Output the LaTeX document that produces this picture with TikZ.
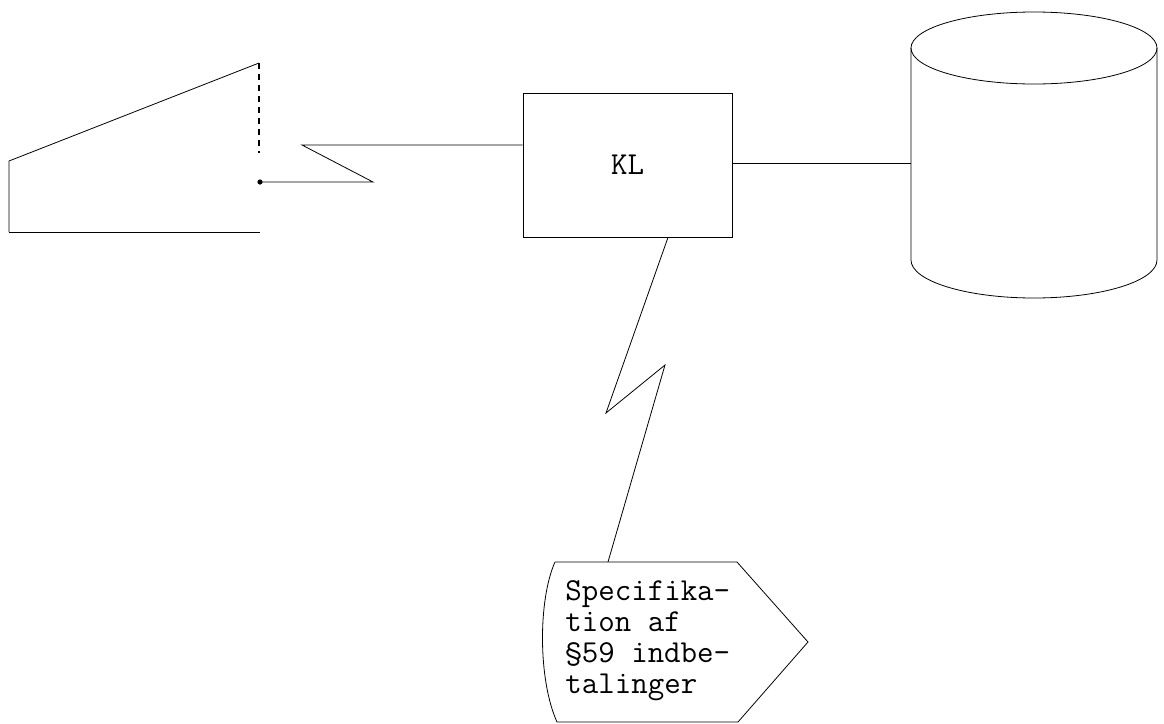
\documentclass[tikz,border=0pt]{standalone}
\usepackage{fontspec}
\usetikzlibrary{positioning}
\tikzset{
    x=0.5pt, y=-0.5pt, % one unit is one pixel of the scan
    line width=0.95pt, % pen of the drawing
    every node/.style={font=\ttfamily\fontsize{16}{15.5}\selectfont},
}

\begin{document}
\begin{tikzpicture}[
                    procBox/.style={draw, minimum width=104.5pt, minimum height=72pt, inner sep=0pt},
                    plainText/.style={align=left, inner sep=0pt, anchor=west},
                ]
                \useasboundingbox (0,0) rectangle (1164,724);
                % terminal
                \draw (9,232) -- (9,161) -- (259,63);
                \draw[dash pattern=on 3pt off 2.5pt, line width=0.7pt] (259,63) -- (259,153);
                \draw (9,232) -- (260,232);
                \coordinate (trm) at (260,182);
                \fill (trm) circle (1.3pt);
                % processor
                \node[procBox] (kl) at (627.5,165) {\raisebox{-3pt}{KL}};
                % disk
                \draw (911,48) -- (911,260) arc[start angle=180, end angle=360, x radius=123, y radius=-38]
                      -- (1157,48);
                \draw (1034,48) ellipse [x radius=123, y radius=36];
                \coordinate (disk) at (911,163);
                % display
                \draw (555,562) -- (737,562) -- (808,642) -- (738,722) -- (557,722)
                      .. controls (538,680) and (538,600) .. (555,562);
                \node[plainText] (spec) at (565,641) {Specifika-\\tion af\\§59 indbe-\\talinger};
                \coordinate (specTop) at (608,562);
                % lightning links
                \coordinate (zz1) at (373,182);
                \coordinate (zz2) at (302,145);
                \coordinate (zz3) at (606,413);
                \coordinate (zz4) at (665,365);
                \draw (trm) -- (zz1) -- (zz2) -- (kl.west |- zz2);
                \draw (kl.east |- disk) -- (disk);
                \draw (kl.south -| 668,0) -- (zz3) -- (zz4) -- (specTop);
            \end{tikzpicture}
\end{document}
